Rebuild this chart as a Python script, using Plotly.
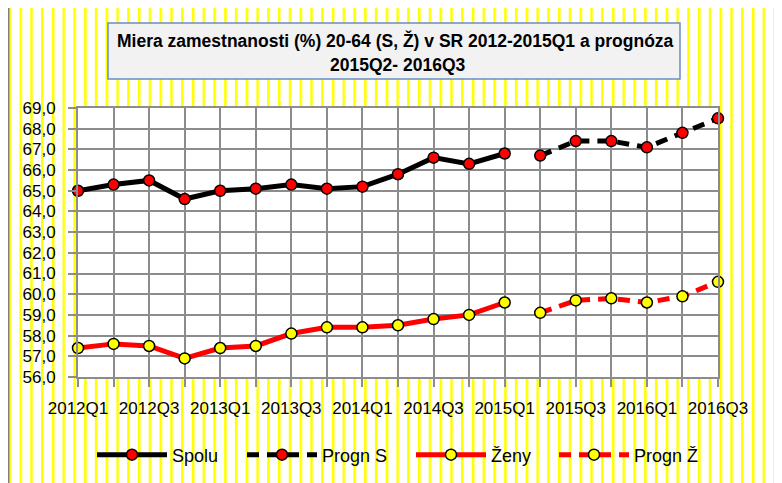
import base64
import plotly.graph_objects as go

# ---------------- data ----------------
quarters = ["2012Q1", "2012Q2", "2012Q3", "2012Q4",
            "2013Q1", "2013Q2", "2013Q3", "2013Q4",
            "2014Q1", "2014Q2", "2014Q3", "2014Q4",
            "2015Q1", "2015Q2", "2015Q3", "2015Q4",
            "2016Q1", "2016Q2", "2016Q3"]
actual_quarters = quarters[:13]
forecast_quarters = quarters[13:]

spolu = [65.0, 65.3, 65.5, 64.6, 65.0, 65.1, 65.3, 65.1, 65.2, 65.8, 66.6, 66.3, 66.8]
progn_s = [66.7, 67.4, 67.4, 67.1, 67.8, 68.5]
zeny = [57.4, 57.6, 57.5, 56.9, 57.4, 57.5, 58.1, 58.4, 58.4, 58.5, 58.8, 59.0, 59.6]
progn_z = [59.1, 59.7, 59.8, 59.6, 59.9, 60.6]

tick_labels = [q if i % 2 == 0 else "" for i, q in enumerate(quarters)]

title_line1 = "Miera zamestnanosti (%) 20-64 (S, Ž) v SR 2012-2015Q1 a prognóza"
title_line2 = "2015Q2- 2016Q3"

# ---------------- layout helpers ----------------
# the page body adds an 8px offset; size the figure so the plot lands in place
OFF = 8
W, H = 782 - OFF, 483 - OFF
PLOT_L, PLOT_R, PLOT_T, PLOT_B = 78, 718, 108, 377   # in window pixels
ML, MR, MT, MB = PLOT_L - OFF, 782 - PLOT_R, PLOT_T - OFF, 483 - PLOT_B
PW, PH = PLOT_R - PLOT_L, PLOT_B - PLOT_T


def px(p):
    return (p - PLOT_L) / PW


def py(p):
    return (PLOT_B - p) / PH


FONT = "Liberation Sans, Arial, sans-serif"
GRID = "#8C8C8C"

# striped yellow background as an svg image
bw, bh = 768, 478
svg = (f'<svg xmlns="http://www.w3.org/2000/svg" width="{bw}" height="{bh}" '
       f'viewBox="0 0 {bw} {bh}" preserveAspectRatio="none">'
       f'<defs><pattern id="p" x="-0.3" y="0" width="10.77" height="10" patternUnits="userSpaceOnUse">'
       f'<rect x="0" y="0" width="2.6" height="10" fill="#FFFF00"/></pattern></defs>'
       f'<rect width="{bw}" height="{bh}" fill="#FFFFFF"/>'
       f'<rect width="{bw}" height="{bh}" fill="url(#p)"/></svg>')
svg_uri = "data:image/svg+xml;base64," + base64.b64encode(svg.encode()).decode()

fig = go.Figure()

fig.add_trace(go.Scatter(
    x=actual_quarters, y=spolu, name="Spolu", mode="lines+markers",
    line=dict(color="#000000", width=5),
    marker=dict(color="#FF0000", size=11, line=dict(color="#000000", width=1.5)),
    cliponaxis=False, legend="legend", showlegend=True))
fig.add_trace(go.Scatter(
    x=forecast_quarters, y=progn_s, name="Progn S", mode="lines+markers",
    line=dict(color="#000000", width=5, dash="12px,8px"),
    marker=dict(color="#FF0000", size=11, line=dict(color="#000000", width=1.5)),
    cliponaxis=False, legend="legend2", showlegend=True))
fig.add_trace(go.Scatter(
    x=actual_quarters, y=zeny, name="Ženy", mode="lines+markers",
    line=dict(color="#FF0000", width=5),
    marker=dict(color="#FFFF00", size=11, line=dict(color="#000000", width=1.5)),
    cliponaxis=False, legend="legend3", showlegend=True))
fig.add_trace(go.Scatter(
    x=forecast_quarters, y=progn_z, name="Progn Ž", mode="lines+markers",
    line=dict(color="#FF0000", width=5, dash="12px,8px"),
    marker=dict(color="#FFFF00", size=11, line=dict(color="#000000", width=1.5)),
    cliponaxis=False, legend="legend4", showlegend=True))


def leg(x_left):
    return dict(x=px(x_left), y=py(455), xanchor="left", yanchor="middle",
                orientation="h", bgcolor="rgba(0,0,0,0)", borderwidth=0, visible=True,
                itemwidth=70, font=dict(family=FONT, size=18, color="#000000"))


shapes = [
    # white plot area
    dict(type="rect", xref="x domain", yref="y domain", x0=0, x1=1, y0=0, y1=1,
         fillcolor="#FFFFFF", line=dict(width=0), layer="below"),
    # outer border
    dict(type="rect", xref="paper", yref="paper", x0=px(8.5), x1=px(778), y0=py(5.5), y1=py(495),
         fillcolor="rgba(0,0,0,0)", line=dict(color="#808080", width=2), layer="below"),
    # title box
    dict(type="rect", xref="paper", yref="paper", x0=px(108), x1=px(680), y0=py(23), y1=py(79),
         fillcolor="#F2F2F2", line=dict(color="#6A8FC4", width=1.5), layer="below"),
]

annotations = [
    dict(text=f"<b>{title_line1}</b>", xref="paper", yref="paper", x=px(395), y=py(40),
         xanchor="center", yanchor="middle", showarrow=False,
         font=dict(family=FONT, size=17.5, color="#000000")),
    dict(text=f"<b>{title_line2}</b>", xref="paper", yref="paper", x=px(398), y=py(65),
         xanchor="center", yanchor="middle", showarrow=False,
         font=dict(family=FONT, size=17.5, color="#000000")),
]

fig.update_layout(
    width=W, height=H, showlegend=True,
    margin=dict(l=ML, r=MR, t=MT, b=MB, pad=0, autoexpand=False),
    paper_bgcolor="#FFFFFF", plot_bgcolor="#FFFFFF",
    separators=", ",
    font=dict(family=FONT, size=17, color="#000000"),
    shapes=shapes, annotations=annotations,
    images=[dict(source=svg_uri, xref="paper", yref="paper",
                 x=px(9), y=py(6), sizex=bw / PW, sizey=bh / PH,
                 xanchor="left", yanchor="top", sizing="stretch", layer="below")],
    legend=leg(92), legend2=leg(242), legend3=leg(411), legend4=leg(554),
    xaxis=dict(type="category", categoryorder="array", categoryarray=quarters,
               range=[0, len(quarters) - 1], tickmode="array", tickvals=quarters,
               ticktext=tick_labels, showgrid=True, gridcolor=GRID, gridwidth=2,
               ticks="outside", ticklen=8, tickwidth=2, tickcolor=GRID,
               showline=True, linecolor=GRID, linewidth=2, mirror=True,
               tickangle=0, ticklabelstandoff=7, automargin=False,
               tickfont=dict(family=FONT, size=17, color="#000000")),
    yaxis=dict(range=[56, 69], tick0=56, dtick=1, tickformat=".1f",
               showgrid=True, gridcolor=GRID, gridwidth=2, zeroline=False,
               ticks="outside", ticklen=8, tickwidth=2, tickcolor=GRID,
               showline=True, linecolor=GRID, linewidth=2, mirror=True,
               ticklabelstandoff=9, automargin=False,
               tickfont=dict(family=FONT, size=17, color="#000000")),
)

fig.write_html("out.html")
